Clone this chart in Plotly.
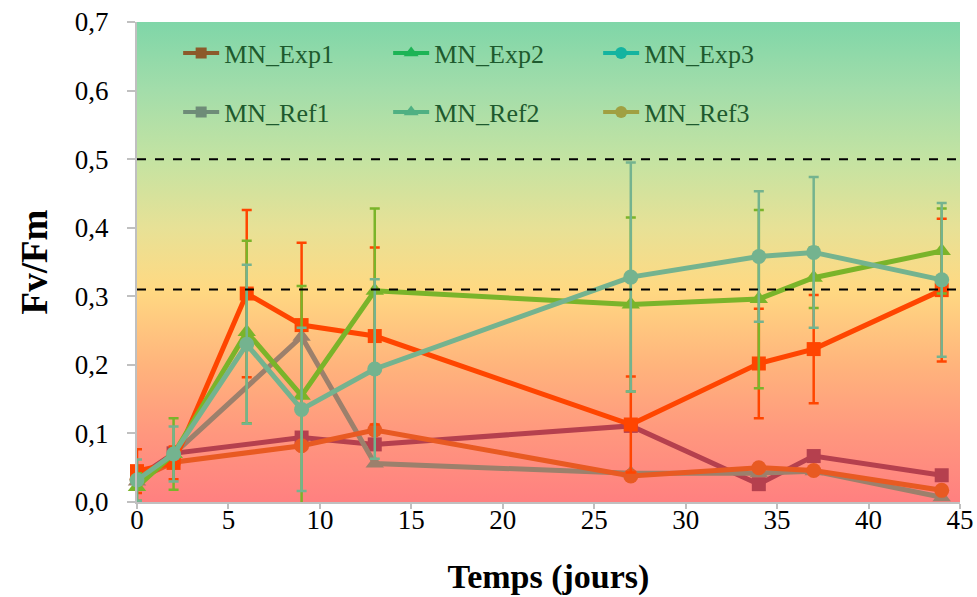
import base64
import plotly.graph_objects as go

# ---------------------------------------------------------------------------
# Data
# ---------------------------------------------------------------------------
days_exp = [0, 2, 6, 9, 13, 27, 34, 37, 44]
days_ref = [0, 2, 9, 13, 27, 34, 37, 44]

exp1 = [0.045, 0.057, 0.304, 0.258, 0.242, 0.113, 0.202, 0.223, 0.309]
exp2 = [0.022, 0.070, 0.248, 0.155, 0.308, 0.288, 0.296, 0.327, 0.366]
exp3 = [0.032, 0.070, 0.230, 0.135, 0.194, 0.328, 0.358, 0.364, 0.324]

exp1_err = [0.032, 0.024, 0.122, 0.120, 0.129, 0.070, 0.080, 0.079, 0.104]
exp2_err = [0.020, 0.052, 0.133, 0.160, 0.120, 0.127, 0.130, 0.044, 0.062]
exp3_err = [0.030, 0.040, 0.116, 0.119, 0.131, 0.167, 0.095, 0.110, 0.112]

ref1 = [0.035, 0.071, 0.094, 0.084, 0.111, 0.026, 0.067, 0.039]
ref2 = [0.030, 0.070, 0.241, 0.056, 0.042, 0.042, 0.045, 0.007]
ref3 = [0.033, 0.058, 0.082, 0.105, 0.038, 0.050, 0.046, 0.017]

thresholds = [0.5, 0.31]

y_ticks = [0.0, 0.1, 0.2, 0.3, 0.4, 0.5, 0.6, 0.7]
x_ticks = [0, 5, 10, 15, 20, 25, 30, 35, 40, 45]

# ---------------------------------------------------------------------------
# Styling
# ---------------------------------------------------------------------------
SERIF = "Liberation Serif, DejaVu Serif, serif"

# (name, x, y, err, plot colour, legend colour, marker symbol, marker size, legend id)
series = [
    ("MN_Ref1", days_ref, ref1, None, "#b5404e", "#6e8c78", "square", 14, "legend2"),
    ("MN_Ref2", days_ref, ref2, None, "#9c806c", "#4fb083", "triangle-up", 16, "legend2"),
    ("MN_Ref3", days_ref, ref3, None, "#e85a22", "#a0a042", "circle", 15, "legend2"),
    ("MN_Exp1", days_exp, exp1, exp1_err, "#ff4500", "#8c5a2a", "square", 14, "legend"),
    ("MN_Exp2", days_exp, exp2, exp2_err, "#7ab42a", "#1db455", "triangle-up", 16, "legend"),
    ("MN_Exp3", days_exp, exp3, exp3_err, "#74b38f", "#14b4a0", "circle", 15, "legend"),
]
legend_order = ["MN_Exp1", "MN_Exp2", "MN_Exp3", "MN_Ref1", "MN_Ref2", "MN_Ref3"]

# background gradient, top (0.7) to bottom (0.0)
grad_offsets = [0.0, 0.143, 0.286, 0.429, 0.557, 0.714, 0.857, 1.0]
grad_colors = ["#7fd6a8", "#a3ddaa", "#c4e3a2", "#e7e196", "#ffd982",
               "#ffb47c", "#ff977e", "#ff8080"]

stops = "".join(
    f'<stop offset="{o}" stop-color="{c}"/>' for o, c in zip(grad_offsets, grad_colors)
)
svg = (
    '<svg xmlns="http://www.w3.org/2000/svg" width="100" height="100" '
    'preserveAspectRatio="none">'
    f'<defs><linearGradient id="g" x1="0" y1="0" x2="0" y2="1">{stops}</linearGradient></defs>'
    '<rect width="100" height="100" fill="url(#g)"/></svg>'
)
svg_uri = "data:image/svg+xml;base64," + base64.b64encode(svg.encode()).decode()

fig = go.Figure()

for name, xs, ys, err, col, _, sym, size, _ in series:
    fig.add_trace(go.Scatter(
        x=xs, y=ys, name=name, mode="lines+markers",
        line=dict(color=col, width=5),
        marker=dict(symbol=sym, size=size, color=col),
        error_y=None if err is None else dict(
            type="data", array=err, visible=True, color=col, thickness=2.5, width=5
        ),
        cliponaxis=False,
        showlegend=False,
    ))

# legend-only entries (tinted as in the reference)
by_name = {s[0]: s for s in series}
for name in legend_order:
    _, _, _, _, _, lcol, sym, size, leg = by_name[name]
    fig.add_trace(go.Scatter(
        x=[None], y=[None], name=name, mode="lines+markers",
        line=dict(color=lcol, width=4),
        marker=dict(symbol=sym, size=size - 3, color=lcol),
        legend=leg,
    ))

for t in thresholds:
    fig.add_shape(type="line", xref="paper", x0=0, x1=1, yref="y", y0=t, y1=t,
                  line=dict(color="black", width=2, dash="dash"))

legend_style = dict(
    orientation="h", x=0.05, xanchor="left", yanchor="middle",
    bgcolor="rgba(0,0,0,0)", borderwidth=0,
    font=dict(family=SERIF, size=26, color="#1e5a2e"),
    entrywidth=159, entrywidthmode="pixels", itemwidth=36,
)

fig.update_layout(
    width=977, height=597,
    margin=dict(l=137, r=17, t=22, b=95),
    paper_bgcolor="white",
    plot_bgcolor="rgba(0,0,0,0)",
    separators=", ",
    font=dict(family=SERIF, size=26, color="black"),
    images=[dict(source=svg_uri, xref="paper", yref="paper", x=0, y=1,
                 sizex=1, sizey=1, sizing="stretch", layer="below")],
    legend=dict(legend_style, y=0.935),
    legend2=dict(legend_style, y=0.8125),
    xaxis=dict(
        range=[0, 45], tickvals=x_ticks, showgrid=False, zeroline=False,
        showline=True, linecolor="#c0c0c0", linewidth=2, automargin=False,
        ticks="outside", ticklen=5, tickcolor="#c0c0c0", tickwidth=2,
        ticklabelstandoff=-12,
        tickfont=dict(family=SERIF, size=27),
        title=dict(text="<b>Temps (jours)</b>", font=dict(family=SERIF, size=34),
                   standoff=30),
    ),
    yaxis=dict(
        range=[0, 0.7], tickvals=y_ticks, tickformat=".1f", showgrid=False,
        zeroline=False, showline=True, linecolor="#c0c0c0", linewidth=2,
        automargin=False,
        ticks="outside", ticklen=8, tickcolor="#c0c0c0", tickwidth=2,
        ticklabelstandoff=13,
        tickfont=dict(family=SERIF, size=27),
        title=dict(text="<b>Fv/Fm</b>", font=dict(family=SERIF, size=37),
                   standoff=16),
    ),
)

# drop the default 8px page margin so the figure fills the window exactly
fig.write_html(
    "out.html",
    config={"displayModeBar": False},
    post_script="document.body.style.margin = '0';",
)
